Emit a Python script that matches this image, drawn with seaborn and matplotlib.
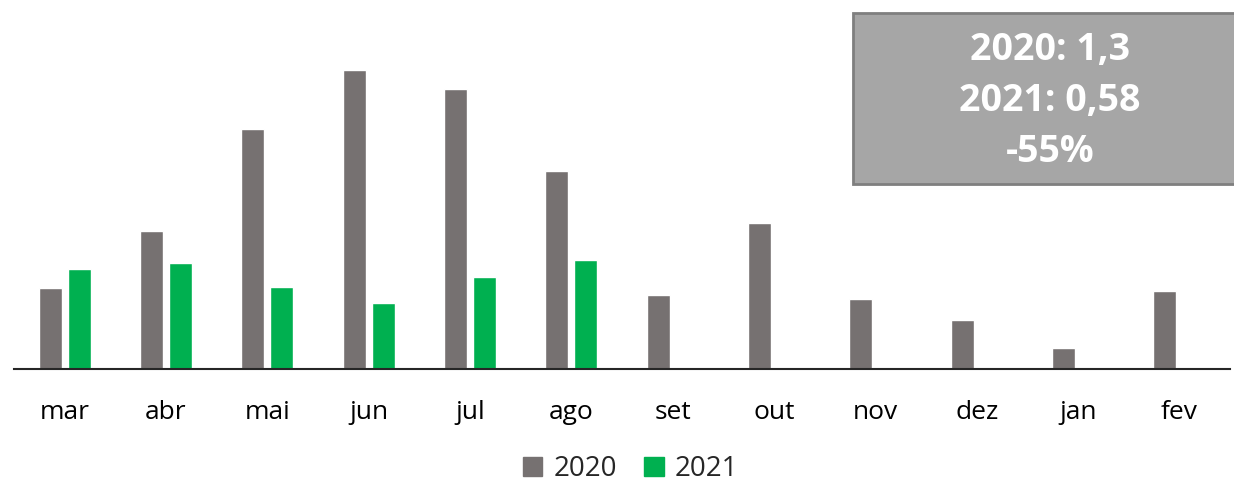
import pandas as pd
import matplotlib.pyplot as plt
import seaborn as sns
from matplotlib.patches import Rectangle

# monthly values
months = ["mar", "abr", "mai", "jun", "jul", "ago", "set", "out", "nov", "dez", "jan", "fev"]
values_2020 = [0.51, 0.87, 1.52, 1.89, 1.77, 1.25, 0.47, 0.92, 0.44, 0.31, 0.13, 0.49]
values_2021 = [0.63, 0.67, 0.52, 0.42, 0.58, 0.69, None, None, None, None, None, None]
years = ["2020", "2021"]
colors = ["#767171", "#00B050"]
box_lines = ["2020: 1,3", "2021: 0,58", "-55%"]

df = pd.DataFrame({
    "month": months * 2,
    "value": values_2020 + values_2021,
    "year": ["2020"] * len(months) + ["2021"] * len(months),
})

sns.set_style("white")
plt.rcParams["font.family"] = ["Open Sans", "DejaVu Sans"]

fig = plt.figure(figsize=(12.34, 4.82), dpi=100)
ax = fig.add_axes([14 / 1234, 113 / 482, 1216 / 1234, 348 / 482])

sns.barplot(data=df, x="month", y="value", hue="year", hue_order=years,
            palette=colors, width=0.57, gap=0.21, saturation=1,
            dodge=True, ax=ax, legend=False)

ax.set_xlim(-0.5, len(months) - 0.5)
ax.set_ylim(0, 2.2)
ax.set_xlabel("")
ax.set_ylabel("")
ax.set_yticks([])
for side in ["top", "left", "right"]:
    ax.spines[side].set_visible(False)
ax.spines["bottom"].set_color("#262626")
ax.spines["bottom"].set_linewidth(1.5)
ax.tick_params(axis="x", length=0, labelsize=19, pad=22, colors="#000000")

# legend at the bottom
handles = [Rectangle((0, 0), 1, 1, color=c) for c in colors]
fig.legend(handles, years, loc="center", bbox_to_anchor=(0.511, 0.027),
           ncol=2, frameon=False, fontsize=20, handlelength=0.7,
           handleheight=0.7, handletextpad=0.4, columnspacing=1.0)

# summary box
fig.patches.append(Rectangle((853 / 1234, 1 - 184 / 482), 0.4, 171 / 482,
                             transform=fig.transFigure, facecolor="#A6A6A6",
                             edgecolor="#7F7F7F", linewidth=2, zorder=5))
for i, line in enumerate(box_lines):
    fig.text(1050 / 1234, 1 - (50 + 51 * i) / 482, line, ha="center", va="center",
             color="white", fontsize=27, fontweight="bold", zorder=6)

fig.savefig("out.png", dpi=100)
